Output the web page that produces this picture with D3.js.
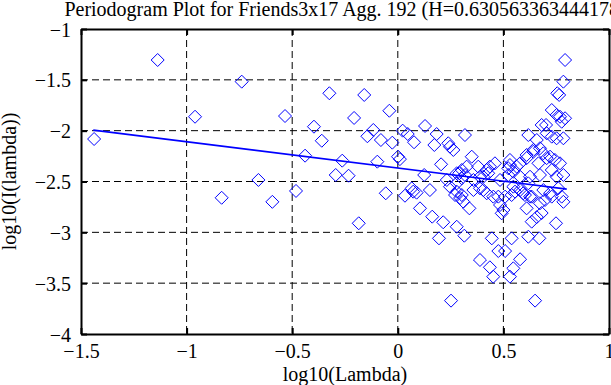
<!DOCTYPE html>
<html>
<head>
<meta charset="utf-8">
<script src="https://cdn.jsdelivr.net/npm/d3@7"></script>
<style>
    html, body { margin: 0; padding: 0; background: #fff; }
    svg, svg text { font-family: "Liberation Serif", "DejaVu Serif", "Times New Roman", serif; }
</style>
</head>
<body>
<div id="chart"></div>
<script>
const titleText = 'Periodogram Plot for Friends3x17 Agg. 192 (H=0.630563363444178)'
const xLabel = 'log10(Lambda)'
const yLabel = 'log10(I(lambda))'
const xTicks = [-1.5, -1, -0.5, 0, 0.5, 1]
const yTicks = [-4, -3.5, -3, -2.5, -2, -1.5, -1]

// periodogram points (log10 lambda, log10 I)
const logLambda = [
    -1.438, -1.137, -0.960, -0.834, -0.739, -0.660, -0.594, -0.534, -0.482, -0.439,
    -0.397, -0.360, -0.324, -0.294, -0.263, -0.233, -0.207, -0.185, -0.159, -0.144,
    -0.116, -0.097, -0.080, -0.057, -0.040, -0.026, 0.001, 0.010, 0.023, 0.034,
    0.047, 0.066, 0.073, 0.077, 0.089, 0.105, 0.125, 0.129, 0.152, 0.163,
    0.173, 0.184, 0.195, 0.205, 0.215, 0.232, 0.239, 0.247, 0.252, 0.263,
    0.271, 0.279, 0.279, 0.291, 0.295, 0.303, 0.310, 0.315, 0.318, 0.318,
    0.326, 0.339, 0.350, 0.358, 0.358, 0.381, 0.389, 0.389, 0.389, 0.405,
    0.405, 0.421, 0.421, 0.428, 0.436, 0.436, 0.445, 0.452, 0.452, 0.460,
    0.476, 0.476, 0.484, 0.484, 0.492, 0.500, 0.508, 0.508, 0.523, 0.523,
    0.531, 0.531, 0.531, 0.539, 0.539, 0.547, 0.547, 0.547, 0.555, 0.563,
    0.579, 0.579, 0.579, 0.579, 0.594, 0.602, 0.610, 0.610, 0.610, 0.618,
    0.618, 0.618, 0.626, 0.626, 0.634, 0.634, 0.642, 0.642, 0.650, 0.658,
    0.658, 0.666, 0.670, 0.673, 0.673, 0.673, 0.681, 0.689, 0.689, 0.697,
    0.702, 0.705, 0.705, 0.721, 0.721, 0.729, 0.729, 0.729, 0.729, 0.744,
    0.749, 0.752, 0.752, 0.752, 0.755, 0.760, 0.768, 0.768, 0.776, 0.776,
    0.784, 0.784, 0.784, 0.784, 0.792, 0.792, 0.681, 0.764, 0.279, 0.303,
    0.247, 0.279, 0.303
]
const logI = [
    -2.082, -1.305, -1.863, -2.660, -1.518, -2.485, -2.700, -1.856, -2.593, -2.246,
    -1.961, -2.099, -1.632, -2.436, -2.295, -2.443, -1.875, -2.911, -1.649, -2.055,
    -1.993, -2.305, -2.092, -2.616, -1.804, -2.118, -2.256, -2.280, -2.000, -2.640,
    -2.033, -2.567, -2.600, -2.114, -2.610, -2.764, -2.436, -1.954, -2.584, -2.846,
    -2.141, -2.033, -3.059, -2.331, -2.901, -2.485, -2.124, -2.158, -3.672, -2.190,
    -2.633, -2.945, -2.518, -2.419, -2.662, -2.468, -2.699, -3.033, -2.043, -2.436,
    -2.354, -2.764, -2.256, -2.485, -2.584, -2.354, -3.272, -2.567, -2.453, -2.453,
    -2.584, -2.616, -2.387, -2.419, -2.354, -3.344, -3.059, -3.436, -2.649, -2.321,
    -3.184, -2.649, -2.731, -2.485, -2.813, -2.780, -3.184, -2.649, -2.436, -2.370,
    -2.288, -3.436, -2.338, -3.059, -2.633, -2.404, -3.354, -2.551, -2.600, -2.354,
    -3.265, -2.321, -2.584, -2.453, -2.616, -2.633, -2.239, -2.764, -2.270, -2.043,
    -3.043, -2.518, -2.649, -2.453, -2.895, -2.649, -2.190, -2.207, -3.672, -2.850,
    -2.092, -2.321, -3.059, -2.714, -2.173, -2.436, -2.810, -2.223, -2.584, -2.682,
    -1.944, -2.026, -2.270, -2.256, -2.616, -1.797, -2.059, -2.387, -2.649, -2.288,
    -2.911, -1.846, -2.075, -2.453, -1.632, -2.567, -1.863, -2.321, -1.912, -2.649,
    -1.518, -2.700, -2.075, -2.436, -1.305, -1.878, -1.944, -1.649, -2.419, -2.387,
    -2.551, -2.600, -2.633
]

// least squares fit line, end points
const fitX = [-1.442, 0.800]
const fitY = [-1.995, -2.575]

const width = 611
const height = 385
const margin = { top: 29, right: 2, bottom: 51, left: 81 }
const fontSize = '20px'
const fontFamily = '"Liberation Serif", "DejaVu Serif", "Times New Roman", serif'
const blue = '#0000ff'

const svg = d3.select('#chart').append('svg')
    .attr('width', width)
    .attr('height', height)
    .attr('font-family', fontFamily)

const x = d3.scaleLinear()
    .domain([-1.5, 1])
    .range([margin.left, width - margin.right])
const y = d3.scaleLinear()
    .domain([-4, -1])
    .range([height - margin.bottom, margin.top])

const fmt = d => String(d).replace('-', '\u2212')

// dashed grid
svg.append('g')
    .selectAll('line')
    .data(xTicks.slice(1, -1))
    .enter()
    .append('line')
    .attr('x1', d => x(d))
    .attr('x2', d => x(d))
    .attr('y1', y(-1))
    .attr('y2', y(-4))
    .attr('stroke', '#000')
    .attr('stroke-width', 1)
    .attr('stroke-dasharray', '7,4')
svg.append('g')
    .selectAll('line')
    .data(yTicks.slice(1, -1))
    .enter()
    .append('line')
    .attr('x1', x(-1.5))
    .attr('x2', x(1))
    .attr('y1', d => y(d))
    .attr('y2', d => y(d))
    .attr('stroke', '#000')
    .attr('stroke-width', 1)
    .attr('stroke-dasharray', '7,4')

// diamonds
const r = 6.5
const diamond = `M0,${-r}L${r},0L0,${r}L${-r},0Z`
svg.append('g')
    .selectAll('path')
    .data(d3.range(logLambda.length))
    .enter()
    .append('path')
    .attr('transform', i => `translate(${x(logLambda[i])},${y(logI[i])})`)
    .attr('d', diamond)
    .attr('fill', 'none')
    .attr('stroke', blue)
    .attr('stroke-width', 1)

// fit line
svg.append('path')
    .datum(d3.zip(fitX, fitY))
    .attr('d', d3.line().x(d => x(d[0])).y(d => y(d[1])))
    .attr('fill', 'none')
    .attr('stroke', blue)
    .attr('stroke-width', 1.6)

// axes, ticks inside
function styleAxis (g) {
    g.attr('font-family', fontFamily).attr('font-size', fontSize)
    g.select('.domain').attr('stroke', '#000').attr('stroke-width', 2)
    g.selectAll('.tick line').attr('stroke', '#000').attr('stroke-width', 2)
    g.selectAll('.tick text').attr('fill', '#000')
}

svg.append('g')
    .attr('transform', `translate(0,${y(-4)})`)
    .call(d3.axisBottom(x).tickValues(xTicks).tickFormat(fmt).tickSize(-6).tickSizeOuter(0).tickPadding(10))
    .call(styleAxis)
svg.append('g')
    .attr('transform', `translate(0,${y(-1)})`)
    .call(d3.axisTop(x).tickValues(xTicks).tickFormat('').tickSize(-6).tickSizeOuter(0))
    .call(styleAxis)
svg.append('g')
    .attr('transform', `translate(${x(-1.5)},0)`)
    .call(d3.axisLeft(y).tickValues(yTicks).tickFormat(fmt).tickSize(-6).tickSizeOuter(0).tickPadding(10))
    .call(styleAxis)
    .selectAll('.tick text')
    .attr('dy', '0.35em')
svg.append('g')
    .attr('transform', `translate(${x(1)},0)`)
    .call(d3.axisRight(y).tickValues(yTicks).tickFormat('').tickSize(-6).tickSizeOuter(0))
    .call(styleAxis)

// title and labels
svg.append('text')
    .attr('x', (x(-1.5) + x(1)) / 2)
    .attr('y', 16)
    .attr('text-anchor', 'middle')
    .attr('font-size', fontSize)
    .text(titleText)

svg.append('text')
    .attr('x', (x(-1.5) + x(1)) / 2)
    .attr('y', 381)
    .attr('text-anchor', 'middle')
    .attr('font-size', fontSize)
    .text(xLabel)

svg.append('text')
    .attr('transform', `translate(16,${(y(-1) + y(-4)) / 2}) rotate(-90)`)
    .attr('text-anchor', 'middle')
    .attr('font-size', fontSize)
    .text(yLabel)
</script>
</body>
</html>
